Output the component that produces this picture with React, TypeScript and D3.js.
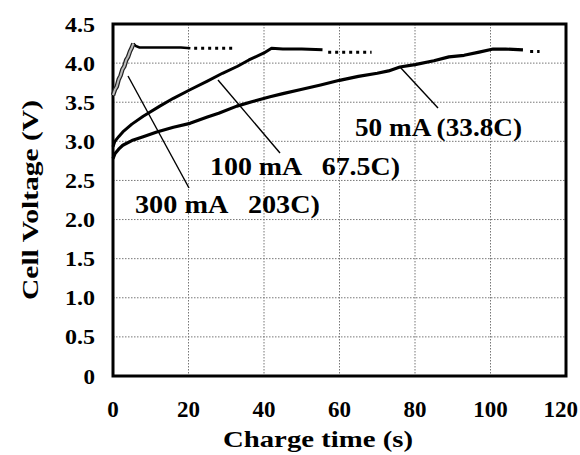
import React from "react";
import * as d3 from "d3";

const xTicks = [0, 20, 40, 60, 80, 100, 120];
const yTicks = [0, 0.5, 1.0, 1.5, 2.0, 2.5, 3.0, 3.5, 4.0, 4.5];
const yTickLabels = ["0", "0.5", "1.0", "1.5", "2.0", "2.5", "3.0", "3.5", "4.0", "4.5"];

// 300 mA (203C)
const t300Rise = [0, 0.5, 1, 1.5, 2, 2.5, 3, 3.5, 4, 4.5, 5, 5.4];
const v300Rise = [3.59, 3.66, 3.7, 3.79, 3.84, 3.92, 3.96, 4.04, 4.08, 4.15, 4.2, 4.25];
const t300Flat = [5.4, 6, 7, 10, 14, 18, 20.5];
const v300Flat = [4.25, 4.22, 4.2, 4.2, 4.2, 4.2, 4.19];
const t300Dot = [21.5, 32];
const v300Dot = [4.19, 4.19];

// 100 mA (67.5C)
const t100 = [0, 0.5, 1.5, 2.6, 5, 8, 12.4, 16, 20.4, 25, 29, 33, 36, 40, 42, 45, 50, 55.5];
const v100 = [2.93, 3.0, 3.06, 3.12, 3.22, 3.32, 3.45, 3.55, 3.66, 3.77, 3.87, 3.96, 4.04, 4.13, 4.19, 4.18, 4.18, 4.17];
const t100Dot = [57, 68.5];
const v100Dot = [4.14, 4.14];

// 50 mA (33.8C)
const t50 = [0, 0.5, 1.5, 2.6, 5, 8, 11.6, 16, 20.4, 25, 28, 32.8, 37, 41.6, 45, 49.5, 55, 60, 65, 70, 73, 76, 80, 85, 89, 93, 97, 100.7, 104, 108.6];
const v50 = [2.78, 2.84, 2.9, 2.95, 3.01, 3.06, 3.12, 3.18, 3.23, 3.31, 3.36, 3.45, 3.51, 3.57, 3.61, 3.66, 3.72, 3.78, 3.83, 3.87, 3.9, 3.95, 3.98, 4.03, 4.08, 4.1, 4.14, 4.18, 4.18, 4.17];
const t50Dot = [110.5, 113];
const v50Dot = [4.15, 4.15];

const FONT = "Liberation Serif, Times New Roman, Times, Tinos, serif";

const M = { left: 113, right: 566, top: 24, bottom: 376 };

export default function App() {
  const x = d3.scaleLinear().domain([0, 120]).range([M.left, M.right]);
  const y = d3.scaleLinear().domain([0, 4.5]).range([M.bottom, M.top]);
  const line = d3
    .line<[number, number]>()
    .x((d) => x(d[0]))
    .y((d) => y(d[1]));
  const pts = (ts: number[], vs: number[]) => ts.map((t, i) => [t, vs[i]] as [number, number]);

  const textStyle: React.CSSProperties = { fontFamily: FONT, fontWeight: "bold", whiteSpace: "pre" };

  const leaders: [number, number, number, number][] = [
    [x.invert(128), y.invert(76), x.invert(189), y.invert(188)],
    [x.invert(218), y.invert(80), x.invert(280), y.invert(153)],
    [x.invert(400), y.invert(67), x.invert(438), y.invert(108)],
  ];

  const digitW = 11.5;
  const ytW = (s: string) => s.replace(".", "").length * digitW + (s.includes(".") ? 7 : 0);

  return (
    <svg width={580} height={455} style={{ position: "absolute", left: 0, top: 0, background: "#fff" }}>
      <rect x={0} y={0} width={580} height={455} fill="#fff" />
      {yTicks.slice(1, -1).map((v) => (
        <line key={"gy" + v} x1={M.left} x2={M.right} y1={y(v)} y2={y(v)} stroke="#777" strokeWidth={1} strokeDasharray="1.5,1.5" />
      ))}
      {xTicks.slice(1, -1).map((t) => (
        <line key={"gx" + t} x1={x(t)} x2={x(t)} y1={M.top} y2={M.bottom} stroke="#777" strokeWidth={1} strokeDasharray="1.5,1.5" />
      ))}
      <rect x={M.left} y={M.top} width={M.right - M.left} height={M.bottom - M.top} fill="none" stroke="#000" strokeWidth={3} />

      <path d={line(pts(t50, v50)) || ""} fill="none" stroke="#000" strokeWidth={3.2} strokeLinejoin="round" />
      <path d={line(pts(t50Dot, v50Dot)) || ""} fill="none" stroke="#000" strokeWidth={3} strokeDasharray="3,4" />
      <path d={line(pts(t100, v100)) || ""} fill="none" stroke="#000" strokeWidth={3} strokeLinejoin="round" />
      <path d={line(pts(t100Dot, v100Dot)) || ""} fill="none" stroke="#000" strokeWidth={3} strokeDasharray="3,4" />
      <path d={line(pts(t300Flat, v300Flat)) || ""} fill="none" stroke="#000" strokeWidth={2.5} />
      <path d={line(pts(t300Dot, v300Dot)) || ""} fill="none" stroke="#000" strokeWidth={3} strokeDasharray="3,4" />
      <path d={line(pts(t300Rise, v300Rise)) || ""} fill="none" stroke="#222" strokeWidth={4.5} strokeLinejoin="round" />
      <path d={line(pts(t300Rise, v300Rise)) || ""} fill="none" stroke="#bbb" strokeWidth={2} strokeLinejoin="round" />

      {leaders.map((l, i) => (
        <line key={"ld" + i} x1={x(l[0])} y1={y(l[1])} x2={x(l[2])} y2={y(l[3])} stroke="#000" strokeWidth={1.4} />
      ))}

      <text x={355} y={136} fontSize={25} textLength={167} lengthAdjust="spacingAndGlyphs" style={textStyle}>50 mA (33.8C)</text>
      <text x={210} y={175} fontSize={25} textLength={190} lengthAdjust="spacingAndGlyphs" style={textStyle}>100 mA   67.5C)</text>
      <text x={135} y={213} fontSize={25} textLength={185} lengthAdjust="spacingAndGlyphs" style={textStyle}>300 mA   203C)</text>

      {yTicks.map((v, i) => {
        const s = yTickLabels[i];
        const w = ytW(s);
        return (
          <text key={"yt" + v} x={95 - w} y={y(v) + 7.5} fontSize={21.5} textLength={w} lengthAdjust="spacingAndGlyphs" style={textStyle}>
            {s}
          </text>
        );
      })}
      {xTicks.map((t) => {
        const s = String(t);
        const w = s.length * 11.5;
        const left = Math.min(x(t) - w / 2, 578 - w);
        return (
          <text key={"xt" + t} x={left} y={417} fontSize={23} textLength={w} lengthAdjust="spacingAndGlyphs" style={textStyle}>
            {s}
          </text>
        );
      })}
      <text x={223} y={447} fontSize={23.5} textLength={190} lengthAdjust="spacingAndGlyphs" style={textStyle}>
        Charge time (s)
      </text>
      <text transform="translate(38,300) rotate(-90)" x={0} y={0} fontSize={23.5} textLength={200} lengthAdjust="spacingAndGlyphs" style={textStyle}>
        Cell Voltage (V)
      </text>
    </svg>
  );
}
